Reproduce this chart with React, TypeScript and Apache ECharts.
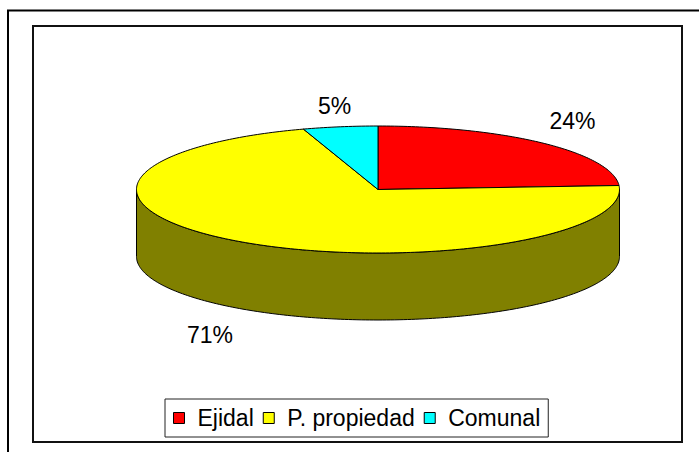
import React, { useEffect, useRef } from "react";
import * as echarts from "echarts";

// ---- data ----
const categories = ["Ejidal", "P. propiedad", "Comunal"];
const values = [24, 71, 5];
const topColors = ["#FF0000", "#FFFF00", "#00FFFF"];
const sideColors = ["#800000", "#808000", "#008080"];

// ---- layout (not data) ----
const CX = 378;
const CY = 189.5;
const RX = 241.5;
const RY = 63.5;
const DEPTH = 67;
const labelAnchors = [
  [572.5, 120.5],
  [210, 335],
  [334.5, 105.5],
];
const FONT = "'Liberation Sans', Arial, Helvetica, sans-serif";

function rim(t: number, dy = 0): number[] {
  return [CX + RX * Math.sin(t), CY - RY * Math.cos(t) + dy];
}

function arcPoints(a0: number, a1: number, dy = 0): number[][] {
  const pts: number[][] = [];
  const n = Math.max(2, Math.ceil(((a1 - a0) * 180) / Math.PI));
  for (let k = 0; k <= n; k++) {
    pts.push(rim(a0 + ((a1 - a0) * k) / n, dy));
  }
  return pts;
}

export default function App() {
  const ref = useRef<HTMLDivElement>(null);

  useEffect(() => {
    if (!ref.current) return;
    const chart = echarts.init(ref.current, undefined, { renderer: "svg" });
    const total = values.reduce((a, b) => a + b, 0);

    const series = categories.map((name, i) => {
      const before = values.slice(0, i).reduce((a, b) => a + b, 0);
      return {
        type: "custom",
        name,
        coordinateSystem: "none",
        itemStyle: { color: topColors[i] },
        data: [[values[i]]],
        renderItem: (params: any, api: any) => {
          const v = api.value(0);
          const a0 = (before / total) * Math.PI * 2;
          const a1 = a0 + (v / total) * Math.PI * 2;
          const children: any[] = [];
          // visible side (front half: PI/2 .. 3PI/2)
          const s0 = Math.max(a0, Math.PI / 2);
          const s1 = Math.min(a1, (Math.PI * 3) / 2);
          if (s1 > s0) {
            const topArc = arcPoints(s0, s1, 0);
            const botArc = arcPoints(s0, s1, DEPTH).reverse();
            children.push({
              type: "polygon",
              z2: 10,
              shape: { points: topArc.concat(botArc) },
              style: { fill: sideColors[i], stroke: "#000", lineWidth: 1 },
            });
          }
          // top face
          const topPts = [[CX, CY]].concat(arcPoints(a0, a1, 0));
          children.push({
            type: "polygon",
            z2: 100,
            shape: { points: topPts },
            style: { fill: topColors[i], stroke: "#000", lineWidth: 1 },
          });
          // label
          children.push({
            type: "text",
            z2: 200,
            style: {
              text: Math.round((v / total) * 100) + "%",
              x: labelAnchors[i][0],
              y: labelAnchors[i][1],
              align: "center",
              verticalAlign: "middle",
              fill: "#000",
              font: `23px ${FONT}`,
            },
          });
          return { type: "group", children };
        },
      };
    });

    chart.setOption({
      animation: false,
      backgroundColor: "#fff",
      legend: {
        data: categories,
        left: 165,
        top: 399,
        orient: "horizontal",
        icon: "rect",
        itemWidth: 11,
        itemHeight: 11,
        itemGap: 9,
        backgroundColor: "#fff",
        borderColor: "#222",
        borderWidth: 1,
        borderRadius: 0,
        padding: [6, 8, 6, 8],
        selectedMode: false,
        itemStyle: { borderColor: "#000", borderWidth: 1 },
        textStyle: {
          fontSize: 23,
          fontFamily: FONT,
          color: "#000",
          lineHeight: 26,
          padding: [0, 0, 0, 8],
        },
      },
      graphic: [
        {
          type: "rect",
          silent: true,
          shape: { x: 8, y: 10.5, width: 1000, height: 1000 },
          style: { fill: "none", stroke: "#000", lineWidth: 2 },
        },
        {
          type: "rect",
          silent: true,
          shape: { x: 33, y: 26, width: 649, height: 416 },
          style: { fill: "none", stroke: "#111", lineWidth: 2 },
        },
      ],
      series,
    });

    return () => chart.dispose();
  }, []);

  return (
    <div
      ref={ref}
      style={{ position: "absolute", left: 0, top: 0, width: 699, height: 452, background: "#fff" }}
    />
  );
}
